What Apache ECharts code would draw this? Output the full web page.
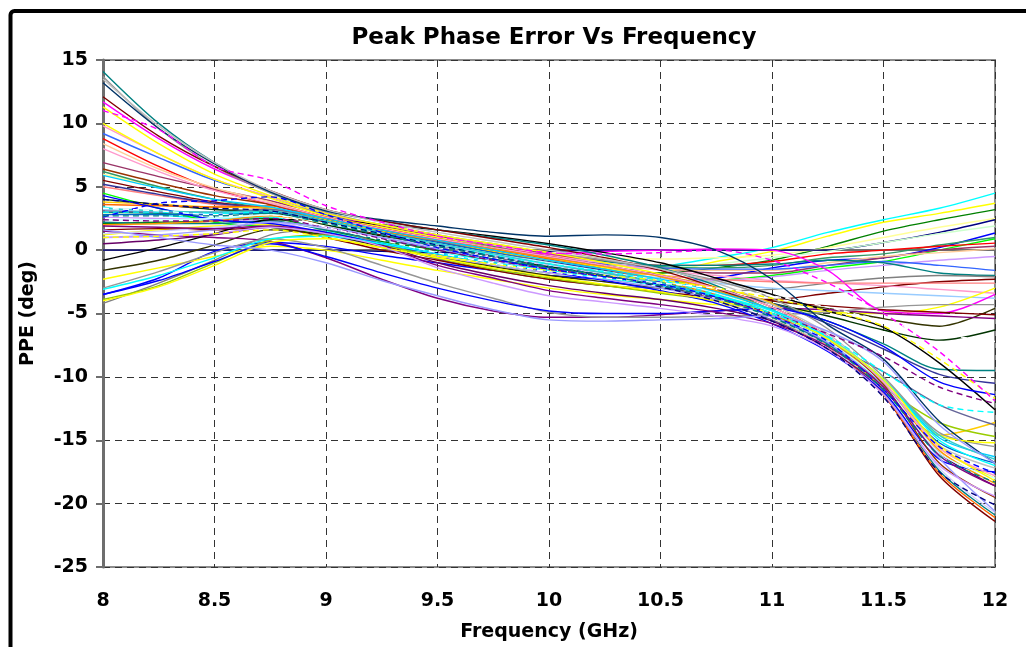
<!DOCTYPE html>
<html>
<head>
<meta charset="utf-8">
<script src="https://cdn.jsdelivr.net/npm/echarts@6/dist/echarts.min.js"></script>
<style>
html,body{margin:0;padding:0;background:#fff;}
#chart{width:1026px;height:647px;}
</style>
</head>
<body>
<div id="chart"></div>
<script>
// Frequencies (GHz) at which each curve is sampled
const FREQ = [8, 8.25, 8.5, 8.75, 9, 9.25, 9.5, 9.75, 10, 10.25, 10.5, 10.75, 11, 11.25, 11.5, 11.75, 12];
const X_TICKS = [8, 8.5, 9, 9.5, 10, 10.5, 11, 11.5, 12];
const Y_TICKS = [-25, -20, -15, -10, -5, 0, 5, 10, 15];

// Curves that finish high at 12 GHz
const upEnd = [
  [3.4, 2.8, 2.5, 2.6, 1.5, 0.6, -0.2, -0.8, -1.3, -1.6, -1.3, -0.6, 0.2, 1.4, 2.4, 3.3, 4.5],
  [1.2, 1.6, 1.9, 2.0, 1.0, 0.2, -0.4, -1.0, -1.6, -2.0, -1.8, -0.9, -0.1, 1.1, 2.2, 2.9, 3.7],
  [2.1, 2.2, 2.3, 2.5, 1.6, 0.7, 0.0, -0.8, -1.3, -1.7, -1.8, -1.4, -0.8, 0.3, 1.5, 2.4, 3.2],
  [6.0, 5.0, 4.0, 3.3, 2.2, 1.4, 0.8, 0.2, -0.3, -0.6, -0.7, -0.6, -0.4, 0.2, 1.0, 1.8, 2.5],
  [0.0, 0.0, 0.0, 0.0, 0.0, -0.1, -0.2, -0.2, -0.1, 0.0, 0.0, 0.0, 0.0, 0.0, 0.6, 1.4, 2.4],
  [2.9, 2.8, 2.9, 3.0, 2.0, 1.2, 0.5, -0.2, -0.8, -1.2, -1.4, -1.1, -0.6, -0.1, 0.6, 1.3, 1.9],
  [-3.5, -2.2, -0.1, 0.6, 0.3, -0.4, -1.0, -1.6, -2.0, -2.3, -2.5, -2.2, -1.4, -0.8, -0.6, 0.2, 1.35],
  [4.5, 3.3, 2.2, 1.8, 1.2, 0.4, -0.5, -1.2, -1.8, -2.2, -2.6, -2.4, -2.0, -1.4, -0.9, 0.0, 0.9],
  [6.2, 5.0, 4.0, 3.2, 2.3, 1.5, 0.9, 0.3, -0.4, -0.9, -1.3, -1.4, -1.2, -0.6, -0.3, 0.4, 1.0],
  [8.8, 6.6, 4.8, 3.6, 2.4, 1.5, 0.8, 0.2, -0.4, -0.8, -1.2, -1.2, -0.9, -0.3, 0.0, 0.3, 0.55],
  [6.9, 5.8, 4.8, 3.9, 2.8, 1.9, 1.1, 0.4, -0.3, -0.8, -1.4, -1.8, -1.8, -1.2, -0.6, 0.0, 0.3],
  [8.4, 6.4, 4.9, 3.8, 2.6, 1.6, 0.7, 0.0, -0.6, -1.1, -1.5, -1.6, -1.6, -1.0, -0.5, -0.2, 0.1]
];
const upEndColors = ['#00FFFF', '#FFFF00', '#008000', '#FFFF99', '#000080', '#CCFFCC', '#0000FF', '#00FF00', '#339966', '#FF0000', '#993366', '#FFCC99'];

// Curves that finish in the middle band
const midEnd = [
  [2.6, 2.5, 2.4, 2.3, 1.2, 0.3, -0.5, -1.2, -1.8, -2.2, -2.4, -2.4, -2.1, -1.6, -1.2, -0.8, -0.5],
  [9.2, 7.3, 5.5, 4.2, 2.8, 1.7, 0.9, 0.1, -0.6, -1.1, -1.4, -1.5, -1.5, -1.2, -0.9, -1.2, -1.6],
  [3.0, 2.9, 2.8, 2.9, 2.1, 1.2, 0.6, 0.0, -0.5, -0.9, -1.2, -1.2, -1.1, -0.8, -1.0, -1.8, -2.0],
  [-4.2, -2.6, -0.8, 1.2, 1.6, 0.5, -0.7, -1.6, -2.3, -2.8, -3.0, -3.2, -3.1, -2.6, -2.2, -2.0, -2.1],
  [1.6, 1.7, 1.6, 1.8, 1.0, 0.0, -0.8, -1.6, -2.3, -2.8, -3.3, -3.7, -3.9, -3.4, -2.9, -2.5, -2.3],
  [9.8, 7.6, 5.6, 4.2, 2.9, 2.0, 1.2, 0.4, -0.4, -1.0, -1.6, -2.0, -2.4, -2.6, -2.8, -3.1, -3.4],
  [3.2, 3.0, 2.9, 3.0, 2.2, 1.2, 0.4, -0.4, -1.1, -1.7, -2.2, -2.6, -3.0, -3.2, -3.4, -3.6, -3.8],
  [-2.3, -1.4, -0.5, 0.3, 0.0, -0.8, -1.6, -2.3, -3.0, -3.5, -3.9, -4.3, -4.6, -4.9, -5.0, -4.5, -3.0],
  [11.7, 8.8, 6.4, 4.6, 3.0, 1.8, 0.8, 0.1, -0.3, -0.1, 0.0, 0.1, 0.0, -1.6, -4.8, -5.0, -3.5],
  [-1.6, -0.8, 0.4, 1.6, 1.2, 0.3, -0.6, -1.3, -2.0, -2.5, -3.0, -3.5, -4.0, -4.6, -5.4, -6.0, -4.6],
  [5.5, 4.6, 3.8, 3.2, 2.2, 1.2, 0.3, -0.5, -1.3, -2.0, -2.6, -3.3, -4.0, -4.4, -4.7, -4.9, -5.1],
  [1.5, 1.2, 1.0, 0.7, -0.6, -2.3, -3.8, -4.8, -5.3, -5.3, -5.1, -4.8, -4.6, -4.7, -5.0, -5.2, -5.4],
  [4.0, 3.6, 3.2, 3.0, 2.0, 1.1, 0.3, -0.5, -1.3, -2.0, -2.7, -3.4, -4.2, -5.2, -6.3, -7.1, -6.3],
  [5.0, 4.3, 3.6, 3.2, 2.3, 1.4, 0.5, -0.3, -1.0, -1.5, -2.0, -2.3, -2.5, -2.6, -2.6, -2.6, -2.6],
  [-3.0, -1.7, -0.2, 0.9, 0.2, -1.2, -2.6, -3.8, -4.9, -5.3, -5.3, -5.2, -5.1, -4.9, -4.5, -4.3, -4.3]
];
const midEndColors = ['#CC99FF', '#3366FF', '#008080', '#808080', '#800000', '#FF99CC', '#99CCFF', '#FFFF00', '#FF00FF', '#333300', '#800000', '#800080', '#003300', '#FF8080', '#969696'];

// Curves that finish between -9 and -16
const lowerMid = [
  [2.2, 2.1, 2.1, 2.3, 1.6, 0.8, 0.1, -0.7, -1.4, -2.0, -2.6, -3.3, -4.2, -5.6, -7.4, -9.4, -9.5],
  [5.2, 4.4, 3.7, 3.3, 2.4, 1.5, 0.7, -0.1, -0.9, -1.6, -2.4, -3.2, -4.2, -5.8, -7.8, -9.8, -10.5],
  [-0.8, 0.2, 1.3, 2.4, 2.4, 2.0, 1.6, 1.1, 0.5, -0.2, -1.0, -2.2, -3.5, -4.8, -6.1, -8.9, -12.6],
  [3.8, 3.6, 3.4, 3.3, 2.4, 1.5, 0.7, -0.1, -0.8, -1.4, -2.0, -2.9, -4.2, -7.0, -10.5, -14.6, -13.6],
  [3.1, 3.0, 3.0, 3.2, 2.5, 1.6, 0.7, -0.2, -1.0, -1.8, -2.8, -4.0, -5.5, -7.4, -9.6, -12.2, -13.8],
  [-3.9, -2.8, -1.0, 0.8, 1.2, 0.4, -0.6, -1.5, -2.2, -2.8, -3.4, -4.0, -5.0, -7.6, -10.8, -13.6, -14.7],
  [13.7, 9.6, 6.6, 4.5, 3.0, 2.0, 1.2, 0.5, -0.2, -0.8, -1.5, -2.4, -3.8, -6.2, -10.0, -14.4, -15.5],
  [-3.5, -2.4, -0.9, 0.5, -0.5, -1.8, -3.0, -4.0, -4.8, -5.0, -5.0, -4.8, -4.6, -5.6, -7.6, -10.4, -11.4]
];
const lowerMidColors = ['#008080', '#333399', '#000000', '#FFCC00', '#666699', '#99CC00', '#969696', '#0000FF'];

// Curves that fall steeply to -16 ... -22 at 12 GHz
const crash = [
  [14.1, 10.0, 6.9, 4.6, 3.1, 2.3, 1.6, 1.0, 0.4, -0.4, -1.4, -2.8, -4.8, -7.2, -11.2, -17.4, -20.9],
  [12.1, 9.0, 6.6, 4.7, 3.2, 2.3, 1.6, 0.9, 0.2, -0.6, -1.6, -3.0, -5.0, -7.4, -11.4, -17.8, -21.4],
  [13.2, 9.6, 6.8, 4.6, 3.1, 2.4, 1.9, 1.4, 1.1, 1.2, 1.0, 0.0, -2.3, -5.9, -8.6, -13.5, -16.8],
  [11.3, 8.4, 6.0, 4.3, 2.9, 2.0, 1.2, 0.5, -0.2, -1.0, -1.9, -3.2, -5.0, -7.5, -11.0, -15.6, -18.0],
  [10.0, 7.6, 5.6, 4.1, 2.7, 1.8, 1.0, 0.2, -0.6, -1.4, -2.4, -3.6, -5.3, -7.6, -10.8, -14.6, -15.2],
  [3.6, 3.5, 3.4, 3.5, 2.6, 1.7, 0.9, 0.1, -0.7, -1.5, -2.4, -3.5, -5.0, -7.6, -11.4, -17.6, -21.1],
  [2.0, 2.1, 2.3, 2.7, 2.1, 1.4, 0.8, 0.1, -0.6, -1.3, -2.1, -3.2, -4.7, -7.0, -10.6, -15.8, -18.4],
  [1.3, 1.5, 1.8, 2.2, 1.7, 1.0, 0.3, -0.5, -1.2, -1.9, -2.7, -3.8, -5.3, -7.6, -11.2, -17.2, -20.7],
  [0.5, 0.8, 1.2, 1.8, 1.4, 0.4, -1.0, -2.0, -2.8, -3.4, -3.9, -4.6, -5.6, -7.8, -11.0, -16.0, -18.6],
  [5.9, 4.9, 4.0, 3.4, 2.5, 1.6, 0.8, 0.0, -0.8, -1.5, -2.3, -3.3, -4.7, -6.9, -10.2, -14.8, -16.3],
  [2.8, 2.8, 2.8, 3.0, 2.3, 1.4, 0.6, -0.2, -1.0, -1.7, -2.6, -3.7, -5.2, -7.4, -10.6, -15.2, -16.8],
  [4.3, 3.3, 2.4, 2.1, 1.4, 0.5, -0.3, -1.0, -1.7, -2.4, -3.2, -4.2, -5.8, -8.0, -11.2, -16.5, -17.5],
  [2.4, 2.4, 2.5, 2.8, 2.1, 1.3, 0.5, -0.3, -1.0, -1.7, -2.4, -3.4, -4.9, -7.2, -10.6, -16.0, -18.0],
  [6.4, 5.3, 4.3, 3.6, 2.6, 1.7, 0.9, 0.2, -0.5, -1.2, -2.0, -3.0, -4.5, -6.8, -10.6, -16.8, -19.5],
  [13.5, 9.8, 6.9, 4.7, 3.2, 2.2, 1.4, 0.7, 0.0, -0.7, -1.5, -2.6, -4.3, -6.6, -10.4, -15.4, -17.2],
  [1.0, 1.2, 1.6, 2.2, 1.8, 1.0, 0.1, -0.8, -1.6, -2.3, -3.0, -3.9, -5.2, -7.3, -10.8, -16.4, -20.6],
  [3.3, 3.1, 3.0, 3.1, 2.3, 1.4, 0.5, -0.3, -1.1, -1.8, -2.6, -3.6, -5.0, -7.0, -10.2, -14.6, -16.5],
  [1.9, 1.8, 1.7, 1.9, 1.3, 0.3, -1.2, -2.2, -3.2, -3.8, -4.3, -4.9, -5.8, -7.6, -10.8, -16.2, -18.6],
  [8.0, 6.2, 4.7, 3.7, 2.6, 1.7, 0.9, 0.2, -0.5, -1.2, -2.0, -3.0, -4.5, -6.8, -10.4, -15.6, -17.8],
  [-3.1, -2.0, -0.6, 0.9, 1.1, 0.5, -0.3, -1.0, -1.6, -2.2, -2.8, -3.6, -4.8, -6.9, -10.2, -15.0, -17.0],
  [-4.0, -2.9, -1.2, 0.6, 0.9, 0.2, -0.6, -1.4, -2.1, -2.7, -3.3, -4.0, -5.0, -7.0, -10.2, -15.4, -18.2],
  [1.0, 1.1, 1.3, 1.8, 1.3, 0.3, -1.4, -2.6, -3.6, -4.1, -4.6, -5.2, -6.0, -7.9, -11.4, -17.0, -19.4],
  [1.6, 1.0, 0.4, 0.0, -1.0, -2.4, -3.6, -4.7, -5.5, -5.6, -5.5, -5.4, -5.2, -6.4, -8.8, -13.8, -16.8]
];
const crashColors = ['#008080', '#800000', '#003366', '#FFFF00', '#FFFF00', '#FF6600', '#FF9900', '#CCCCFF', '#660066', '#00CCFF', '#0066CC', '#0000FF', '#CCFFFF', '#993300', '#C0C0C0', '#9999FF', '#33CCCC', '#800080', '#FF99CC', '#00FFFF', '#FFFF00', '#CC99FF', '#9999FF'];

// Dashed curves
const dashedCurves = [
  [1.0, 1.1, 1.3, 1.6, 1.0, 0.2, -0.5, -1.1, -1.6, -2.0, -2.4, -3.0, -3.8, -4.8, -6.0, -8.6, -11.7],
  [11.0, 9.5, 6.6, 5.5, 3.5, 2.2, 1.1, 0.4, -0.2, -0.3, -0.2, 0.0, -0.8, -2.6, -5.0, -8.0, -11.9],
  [2.4, 2.3, 2.3, 2.5, 1.8, 0.9, 0.0, -0.8, -1.5, -2.1, -2.8, -3.8, -5.0, -6.6, -8.4, -10.8, -12.1],
  [3.0, 3.0, 2.9, 3.0, 2.2, 1.3, 0.4, -0.4, -1.1, -1.7, -2.4, -3.5, -5.0, -6.8, -9.6, -12.2, -12.8],
  [2.6, 3.7, 3.9, 4.2, 2.8, 1.4, 0.2, -0.7, -1.5, -2.1, -2.7, -3.7, -5.2, -7.2, -11.0, -15.5, -17.6],
  [4.0, 3.6, 3.3, 3.1, 2.2, 1.3, 0.4, -0.5, -1.3, -2.0, -2.9, -4.0, -5.6, -7.8, -11.6, -17.5, -20.1],
  [3.3, 3.1, 2.8, 2.8, 1.8, 0.8, -0.2, -1.0, -1.7, -2.2, -2.6, -3.0, -3.6, -4.5, -5.6, -6.6, -7.2],
  [2.7, 2.7, 2.7, 2.9, 2.1, 1.2, 0.3, -0.5, -1.3, -2.0, -2.8, -3.8, -5.3, -7.5, -11.0, -16.2, -18.3]
];
const dashedColors = ['#FFFF00', '#FF00FF', '#800080', '#00FFFF', '#0000FF', '#000080', '#FFFFFF', '#008080'];

const groups = [
  [upEnd, upEndColors, 'solid'],
  [midEnd, midEndColors, 'solid'],
  [lowerMid, lowerMidColors, 'solid'],
  [crash, crashColors, 'solid'],
  [dashedCurves, dashedColors, [6, 4]]
];

const series = [];
groups.forEach(function (g) {
  g[0].forEach(function (vals, i) {
    series.push({
      type: 'line',
      data: vals.map(function (v, k) { return [FREQ[k], v]; }),
      smooth: 0.3,
      symbol: 'none',
      silent: true,
      lineStyle: { color: g[1][i], width: 1.4, type: g[2] }
    });
  });
});

const FONT = '"DejaVu Sans", Verdana, sans-serif';
const chart = echarts.init(document.getElementById('chart'), null, { renderer: 'canvas' });
chart.setOption({
  animation: false,
  backgroundColor: '#ffffff',
  title: {
    text: 'Peak Phase Error Vs Frequency',
    left: 549, top: 22, textAlign: 'center',
    textStyle: { fontFamily: FONT, fontWeight: 'bold', fontSize: 23, color: '#000' }
  },
  graphic: [{
    type: 'rect', z: -10, silent: true,
    shape: { x: 10.5, y: 11, width: 1040, height: 720, r: 4 },
    style: { fill: 'none', stroke: '#000', lineWidth: 4 }
  }],
  grid: {
    left: 103, right: 31, top: 60, bottom: 80,
    show: true, backgroundColor: '#ffffff', borderColor: '#8c8c8c', borderWidth: 2
  },
  xAxis: {
    type: 'value', min: 8, max: 12, interval: 0.5,
    name: 'Frequency (GHz)', nameLocation: 'middle', nameGap: 56,
    nameTextStyle: { fontFamily: FONT, fontWeight: 'bold', fontSize: 19, color: '#000' },
    axisLine: { show: true, lineStyle: { color: '#6e6e6e', width: 2 } },
    axisTick: { show: true, inside: false, length: 7, lineStyle: { color: '#6e6e6e', width: 2 } },
    axisLabel: {
      margin: 25, fontFamily: FONT, fontWeight: 'bold', fontSize: 19, color: '#000',
      formatter: function (v) { return X_TICKS.indexOf(v) >= 0 ? String(v) : ''; }
    },
    splitLine: { show: true, lineStyle: { color: '#333', width: 1, type: [7, 5] } }
  },
  yAxis: {
    type: 'value', min: -25, max: 15, interval: 5,
    name: 'PPE (deg)', nameLocation: 'middle', nameGap: 65, nameRotate: 90,
    nameTextStyle: { fontFamily: FONT, fontWeight: 'bold', fontSize: 19, color: '#000' },
    axisLine: { show: true, lineStyle: { color: '#6e6e6e', width: 3 } },
    axisTick: { show: true, inside: false, length: 7, lineStyle: { color: '#6e6e6e', width: 2 } },
    axisLabel: {
      margin: 15, fontFamily: FONT, fontWeight: 'bold', fontSize: 19, color: '#000',
      formatter: function (v) { return Y_TICKS.indexOf(v) >= 0 ? String(v) : ''; }
    },
    splitLine: { show: true, lineStyle: { color: '#333', width: 1, type: [7, 5] } }
  },
  series: series
});
</script>
</body>
</html>
